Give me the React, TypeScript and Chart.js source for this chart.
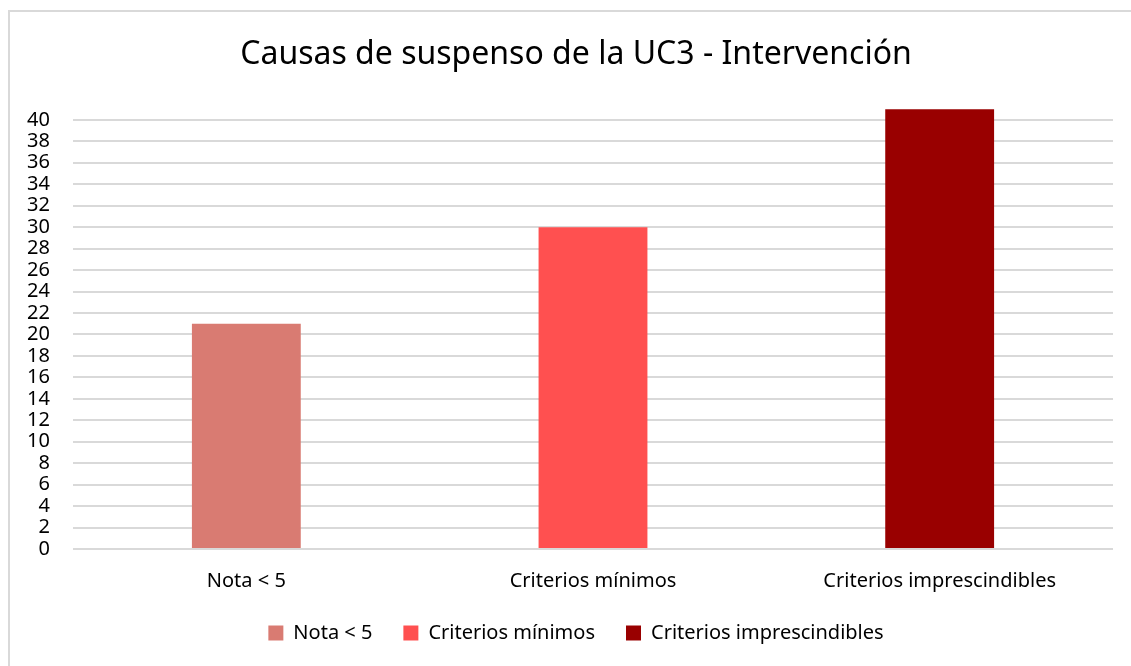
import React, { useEffect, useRef } from "react";
import { Chart, registerables } from "chart.js";

Chart.register(...registerables);

const categories = ["Nota < 5", "Criterios mínimos", "Criterios imprescindibles"];
const values = [21, 30, 41];
const colors = ["#d97b72", "#ff5050", "#990000"];
const titleText = "Causas de suspenso de la UC3 - Intervención";
const yMax = 42;
const yStep = 2;
const yLastLabel = 40;

const FONT = "'Noto Sans', sans-serif";

export default function App() {
  const ref = useRef<HTMLCanvasElement | null>(null);

  useEffect(() => {
    if (!ref.current) return;
    const chart = new Chart(ref.current, {
      type: "bar",
      data: {
        labels: categories,
        datasets: [
          {
            label: "Serie",
            data: values,
            backgroundColor: colors,
            borderWidth: 0,
            categoryPercentage: 1,
            barPercentage: 0.314,
          },
        ],
      },
      options: {
        responsive: false,
        animation: false,
        devicePixelRatio: 1,
        layout: { padding: { left: 39, right: 18, top: 0, bottom: 13 } },
        plugins: {
          tooltip: { enabled: false },
          title: {
            display: true,
            text: titleText,
            color: "#000",
            font: { family: FONT, size: 32, weight: "normal" },
            padding: { top: 36, bottom: 24 },
          },
          legend: {
            display: true,
            position: "bottom",
            labels: {
              color: "#000",
              font: { family: FONT, size: 20 },
              boxWidth: 15,
              boxHeight: 15,
              padding: 31,
              generateLabels: () =>
                categories.map((c, i) => ({
                  text: c,
                  fillStyle: colors[i],
                  strokeStyle: colors[i],
                  lineWidth: 0,
                  hidden: false,
                  index: i,
                  fontColor: "#000",
                })),
            },
          },
        },
        scales: {
          x: {
            grid: { display: false, drawTicks: false },
            border: { display: false },
            afterFit: (axis: any) => {
              axis.height = 43;
              axis._computeLabelArea = () => undefined;
            },
            ticks: {
              color: "#000",
              font: { family: FONT, size: 20 },
              padding: 20,
            },
          },
          y: {
            min: 0,
            max: yMax,
            afterBuildTicks: (axis: any) => {
              axis.ticks = axis.ticks.filter((t: any) => t.value <= yLastLabel);
            },
            afterFit: (axis: any) => {
              axis.width = 34;
              axis._computeLabelArea = () => undefined;
            },
            grid: { color: "#d9d9d9", lineWidth: 2, drawTicks: false },
            border: { display: false },
            ticks: {
              stepSize: yStep,
              autoSkip: false,
              color: "#000",
              font: { family: FONT, size: 20 },
              padding: 23,
            },
          },
        },
      },
    });
    return () => chart.destroy();
  }, []);

  return (
    <>
      <div
        style={{
          position: "fixed",
          left: 8,
          top: 10,
          width: 1200,
          height: 800,
          borderLeft: "2px solid #d9d9d9",
          borderTop: "2px solid #d9d9d9",
          background: "#fff",
        }}
      />
      <canvas
        ref={ref}
        width={1131}
        height={666}
        style={{ position: "fixed", left: 0, top: 0, width: 1131, height: 666 }}
      />
    </>
  );
}
